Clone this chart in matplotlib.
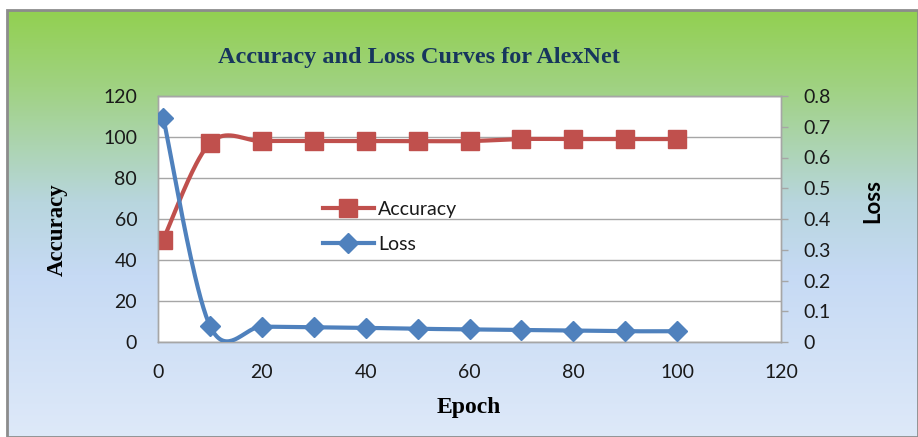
import numpy as np
import matplotlib
matplotlib.use("Agg")
import matplotlib.pyplot as plt
from matplotlib.lines import Line2D
from matplotlib.patches import Rectangle

# --- data -------------------------------------------------------------
epochs = [1, 10, 20, 30, 40, 50, 60, 70, 80, 90, 100]
accuracy = [50, 97, 98, 98, 98, 98, 98, 99, 99, 99, 99]
loss = [0.73, 0.053, 0.050, 0.048, 0.046, 0.043, 0.041, 0.039, 0.037, 0.035, 0.035]

x_ticks = [0, 20, 40, 60, 80, 100, 120]
acc_ticks = [0, 20, 40, 60, 80, 100, 120]
loss_ticks = [0, 0.1, 0.2, 0.3, 0.4, 0.5, 0.6, 0.7, 0.8]

title = "Accuracy and Loss Curves for AlexNet"

RED = "#C0504D"
BLUE = "#4F81BD"
GRID = "#A6A6A6"
TXT = "#1a1a1a"
TICK_FONT = "Lato"
SERIF = "Liberation Serif"
FS = 14


def smooth(xs, ys, n=40):
    """Piecewise cubic Bezier through the points (Catmull-Rom control points)."""
    p = np.column_stack([xs, ys]).astype(float)
    p_ext = np.vstack([p[0], p, p[-1]])
    out = []
    t = np.linspace(0, 1, n)[:, None]
    for i in range(len(p) - 1):
        p0, p1, p2, p3 = p_ext[i], p_ext[i + 1], p_ext[i + 2], p_ext[i + 3]
        c1 = p1 + (p2 - p0) / 6.0
        c2 = p2 - (p3 - p1) / 6.0
        seg = ((1 - t) ** 3) * p1 + 3 * ((1 - t) ** 2) * t * c1 + 3 * (1 - t) * t ** 2 * c2 + t ** 3 * p2
        out.append(seg if i == 0 else seg[1:])
    seg = np.vstack(out)
    return seg[:, 0], seg[:, 1]


W, H = 918, 437
fig = plt.figure(figsize=(W / 100, H / 100), dpi=100)
fig.patch.set_facecolor("white")

# gradient backdrop of the chart frame
bg = fig.add_axes([7 / W, 0, 1 - 7 / W, (H - 10) / H])
bg.set_axis_off()
stops = np.array([0.0, 0.18, 0.45, 0.62, 1.0])
cols = np.array([
    [146, 208, 80],
    [160, 210, 130],
    [184, 214, 222],
    [198, 218, 244],
    [222, 233, 249],
]) / 255.0
yy = np.linspace(0, 1, 400)
grad = np.stack([np.interp(yy, stops, cols[:, k]) for k in range(3)], axis=1)
bg.imshow(grad[:, None, :], aspect="auto", extent=[0, 1, 0, 1], origin="upper")
bg.set_xlim(0, 1)
bg.set_ylim(0, 1)
bg.add_patch(Rectangle((0, 0), 1, 1, transform=bg.transAxes, fill=False,
                       edgecolor="#8C8C8C", linewidth=2.0, clip_on=False))

# plot area
L, R, T, B = 158, 781, 96, 342
ax = fig.add_axes([L / W, (H - B) / H, (R - L) / W, (B - T) / H])
ax.set_facecolor("white")
ax2 = ax.twinx()

ax.set_xlim(0, 120)
ax.set_ylim(0, 120)
ax2.set_ylim(0, 0.8)

ax.set_xticks(x_ticks)
ax.set_xticklabels([str(v) for v in x_ticks])
ax.set_yticks(acc_ticks)
ax.set_yticklabels([str(v) for v in acc_ticks])
ax2.set_yticks(loss_ticks)
ax2.set_yticklabels(["0" if v == 0 else f"{v:.1f}" for v in loss_ticks])

ax.yaxis.grid(True, color=GRID, linewidth=1.0)
ax.set_axisbelow(True)

for a in (ax, ax2):
    for s in a.spines.values():
        s.set_color(GRID)
        s.set_linewidth(1.0)

ax.tick_params(axis="x", length=0, pad=16, labelsize=FS, labelcolor=TXT)
ax.tick_params(axis="y", length=0, pad=15, labelsize=FS, labelcolor=TXT)
ax2.tick_params(axis="y", length=5, width=1.0, color=GRID, direction="out",
                pad=11, labelsize=FS, labelcolor=TXT)
for lab in ax.get_xticklabels() + ax.get_yticklabels() + ax2.get_yticklabels():
    lab.set_fontfamily(TICK_FONT)

# series
sx, sy = smooth(epochs, accuracy)
ax.plot(sx, sy, color=RED, linewidth=3.0, solid_capstyle="round", zorder=3)
ax.plot(epochs, accuracy, linestyle="none", marker="s", markersize=13,
        markerfacecolor=RED, markeredgecolor=RED, zorder=4)

lx, ly = smooth(epochs, loss)
ax2.plot(lx, ly, color=BLUE, linewidth=3.0, solid_capstyle="round", zorder=3)
ax2.plot(epochs, loss, linestyle="none", marker="D", markersize=10.5,
         markerfacecolor=BLUE, markeredgecolor=BLUE, zorder=4)

# legend
handles = [
    Line2D([], [], color=RED, linewidth=3.0, marker="s", markersize=13,
           markerfacecolor=RED, markeredgecolor=RED),
    Line2D([], [], color=BLUE, linewidth=3.0, marker="D", markersize=10.5,
           markerfacecolor=BLUE, markeredgecolor=BLUE),
]
leg = ax2.legend(handles, ["Accuracy", "Loss"], loc="center left",
                 bbox_to_anchor=((323 - L) / (R - L), (B - 227) / (B - T)),
                 frameon=False, borderpad=0, borderaxespad=0,
                 handlelength=2.6, handletextpad=0.25,
                 labelspacing=0.95, prop={"family": TICK_FONT, "size": FS})
for t in leg.get_texts():
    t.set_color(TXT)

# titles and axis labels
fig.text(419 / W, 1 - 57 / H, title, ha="center", va="center",
         fontfamily=SERIF, fontweight="bold", fontsize=17.5, color="#17365D")
fig.text(57 / W, 1 - 230 / H, "Accuracy", ha="center", va="center", rotation=90,
         fontfamily=SERIF, fontweight="bold", fontsize=16.5, color="black")
fig.text(873 / W, 1 - 201 / H, "Loss", ha="center", va="center", rotation=90,
         fontfamily=TICK_FONT, fontweight="bold", fontsize=16, color="black")
fig.text(469 / W, 1 - 407 / H, "Epoch", ha="center", va="center",
         fontfamily=SERIF, fontweight="bold", fontsize=17, color="black")

fig.savefig("out.png", dpi=100)
